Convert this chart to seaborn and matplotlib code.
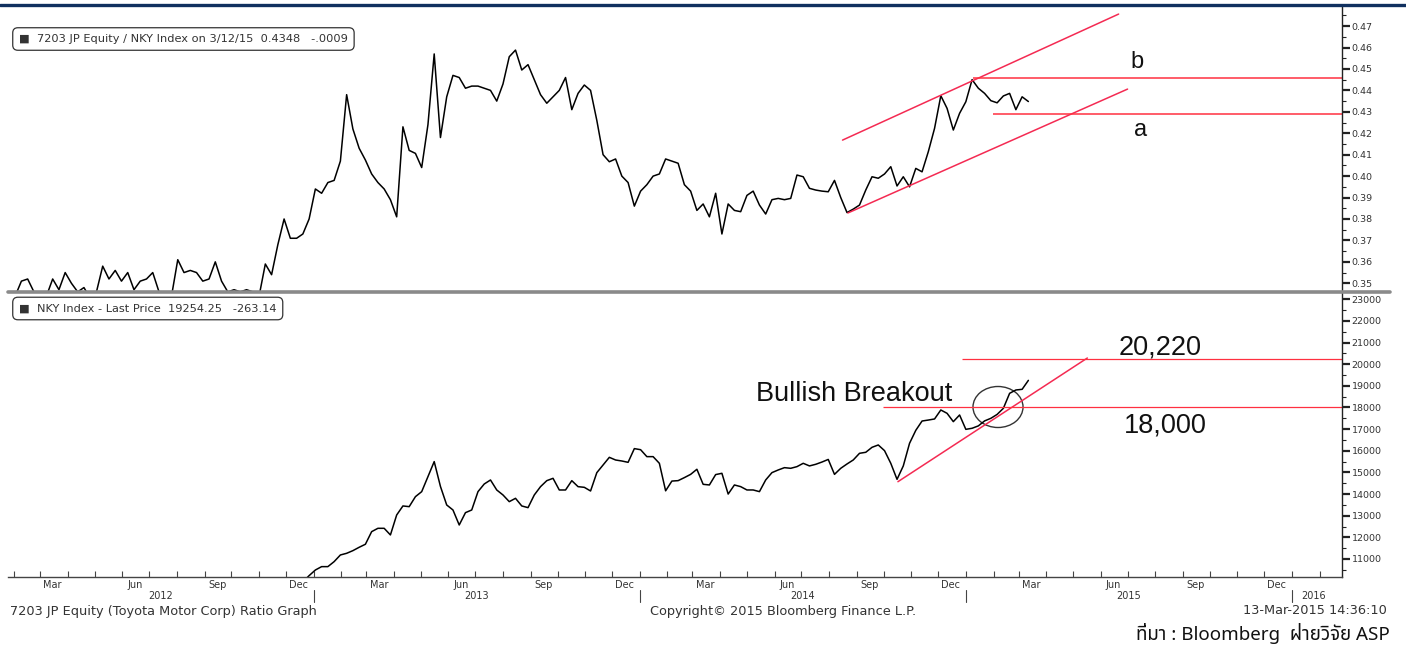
import pandas as pd
import matplotlib
matplotlib.use('Agg')
import matplotlib.pyplot as plt
import matplotlib.dates as mdates
from matplotlib.patches import Ellipse
from matplotlib.lines import Line2D
from matplotlib.ticker import MultipleLocator, FormatStrFormatter
import seaborn as sns

# weekly (Thursday) closes
ratio_start = '2012-01-26'
ratio = [0.343, 0.344, 0.351, 0.352, 0.346, 0.343, 0.344, 0.352, 0.347, 0.355,
         0.350, 0.346, 0.348, 0.343, 0.346, 0.358, 0.352, 0.356, 0.351, 0.355,
         0.347, 0.351, 0.352, 0.355, 0.346, 0.343, 0.344, 0.361, 0.355, 0.356,
         0.355, 0.351, 0.352, 0.360, 0.351, 0.346, 0.347, 0.346, 0.347, 0.346,
         0.344, 0.359, 0.354, 0.368, 0.380, 0.371, 0.371, 0.373, 0.380, 0.394,
         0.392, 0.397, 0.398, 0.407, 0.438, 0.422, 0.413, 0.4075, 0.401, 0.397,
         0.394, 0.389, 0.381, 0.423, 0.412, 0.4106, 0.404, 0.424, 0.457, 0.418,
         0.437, 0.447, 0.446, 0.441, 0.442, 0.442, 0.441, 0.440, 0.435, 0.443,
         0.4557, 0.4588, 0.4495, 0.452, 0.445, 0.438, 0.434, 0.437, 0.440, 0.446,
         0.431, 0.4386, 0.4425, 0.440, 0.426, 0.410, 0.4067, 0.408, 0.400, 0.397,
         0.386, 0.393, 0.396, 0.400, 0.401, 0.408, 0.407, 0.406, 0.396, 0.393,
         0.384, 0.387, 0.381, 0.392, 0.373, 0.387, 0.384, 0.3834, 0.391, 0.393,
         0.3865, 0.3823, 0.389, 0.3896, 0.389, 0.3896, 0.4005, 0.3997, 0.3943, 0.3935,
         0.393, 0.3927, 0.398, 0.390, 0.383, 0.3846, 0.3865, 0.3935, 0.3997, 0.399,
         0.401, 0.4044, 0.3954, 0.3997, 0.395, 0.4036, 0.402, 0.4114, 0.4223, 0.4375,
         0.4316, 0.4215, 0.4293, 0.4347, 0.4450, 0.441, 0.4386, 0.4352, 0.4342, 0.4374,
         0.4386, 0.431, 0.437, 0.4348]

nky_start = '2012-11-15'
nky = [8830, 9370, 9400, 9545, 9740, 9940, 10230,
       10490, 10646, 10646, 10877, 11185, 11262, 11385, 11540, 11680, 12263,
       12417, 12417, 12110, 13033, 13450, 13418, 13880, 14111, 14804, 15500,
       14350, 13495, 13264, 12571, 13141, 13264, 14111, 14465, 14650, 14188,
       13957, 13649, 13803, 13450, 13372, 13957, 14342, 14619, 14727, 14188,
       14188, 14619, 14342, 14311, 14142, 14989, 15343, 15697, 15574, 15528,
       15466, 16100, 16050, 15729, 15729, 15421, 14150, 14600, 14620, 14760,
       14910, 15145, 14450, 14420, 14900, 14959, 14000, 14420, 14343, 14189,
       14189, 14112, 14651, 14990, 15113, 15220, 15190, 15267, 15421, 15300,
       15375, 15480, 15600, 14910, 15190, 15390, 15575, 15883, 15930, 16160,
       16268, 16006, 15421, 14680, 15300, 16345, 16945, 17375, 17420, 17470,
       17885, 17731, 17346, 17654, 16990, 17040, 17150, 17380, 17500, 17680,
       17962, 18655, 18809, 18840, 19254]

# hand drawn lines on the screen
ratio_upper_dates = ['2014-08-16', '2015-06-21']
ratio_upper_vals = [0.4168, 0.4756]
ratio_lower_dates = ['2014-08-22', '2015-07-01']
ratio_lower_vals = [0.3828, 0.4406]
level_b, level_b_from = 0.4456, '2015-01-09'
level_a, level_a_from = 0.4291, '2015-01-31'
nky_trend_dates = ['2014-10-17', '2015-05-17']
nky_trend_vals = [14571, 20287]
nky_target, nky_target_from = 20220, '2014-12-28'
nky_break, nky_break_from = 18000, '2014-09-30'

x_left, x_right = pd.Timestamp('2012-01-25'), pd.Timestamp('2016-02-26')
years = [2012, 2013, 2014, 2015, 2016]

W, H = 1406, 648
sns.set_theme(style='white')
plt.rcParams['font.family'] = ['DejaVu Sans']

fig = plt.figure(figsize=(W / 100, H / 100), dpi=100)
ax1 = fig.add_axes([8 / W, 1 - 291 / H, 1334 / W, 284 / H])
ax2 = fig.add_axes([8 / W, 1 - 577 / H, 1334 / W, 284 / H])

df_ratio = pd.DataFrame({'date': pd.date_range(ratio_start, periods=len(ratio), freq='W-THU'),
                         'value': ratio})
df_nky = pd.DataFrame({'date': pd.date_range(nky_start, periods=len(nky), freq='W-THU'),
                       'value': nky})
sns.lineplot(data=df_ratio, x='date', y='value', ax=ax1, color='black', lw=1.1)
sns.lineplot(data=df_nky, x='date', y='value', ax=ax2, color='black', lw=1.1)

ax1.set_ylim(0.3464, 0.4789)
ax2.set_ylim(10167, 23291)

for ax in (ax1, ax2):
    ax.set_xlim(x_left, x_right)
    ax.set_xlabel('')
    ax.set_ylabel('')
    ax.yaxis.tick_right()
    for s in ['left', 'top']:
        ax.spines[s].set_visible(False)
    ax.spines['right'].set_color('#222222')
    ax.spines['right'].set_linewidth(1.0)
    ax.tick_params(axis='y', which='major', direction='out', length=6, width=1.6,
                   color='#222222', labelsize=6.8, labelcolor='#333333', pad=1)
    ax.tick_params(axis='y', which='minor', direction='out', length=3, width=0.8,
                   color='#222222', right=True)

ax1.spines['bottom'].set_visible(False)
ax1.tick_params(axis='x', which='both', bottom=False, labelbottom=False)
ax1.yaxis.set_major_locator(MultipleLocator(0.01))
ax1.yaxis.set_minor_locator(MultipleLocator(0.005))
ax1.yaxis.set_major_formatter(FormatStrFormatter('%.2f'))
ax2.yaxis.set_major_locator(MultipleLocator(1000))
ax2.yaxis.set_minor_locator(MultipleLocator(500))
ax2.yaxis.set_major_formatter(FormatStrFormatter('%d'))

# date axis: month boundaries as ticks, quarter month names in the middle
ax2.spines['bottom'].set_color('#444444')
ax2.spines['bottom'].set_linewidth(1.0)
ax2.xaxis.set_major_locator(mdates.MonthLocator(bymonth=[3, 6, 9, 12], bymonthday=15))
ax2.xaxis.set_major_formatter(mdates.DateFormatter('%b'))
ax2.xaxis.set_minor_locator(mdates.MonthLocator())
ax2.tick_params(axis='x', which='major', length=0, pad=2, labelsize=7, labelcolor='#333333')
ax2.tick_params(axis='x', which='minor', direction='in', length=4, width=0.8,
                color='#444444', bottom=True)

xt = ax2.get_xaxis_transform()
for yr in years:
    start = max(pd.Timestamp(f'{yr}-01-01'), x_left)
    end = min(pd.Timestamp(f'{yr + 1}-01-01'), x_right)
    if yr == years[-1]:
        ax2.text(start + pd.Timedelta(days=10), -0.067, str(yr), transform=xt,
                 ha='left', va='center', fontsize=7, color='#333333')
    else:
        ax2.text(start + (end - start) / 2, -0.067, str(yr), transform=xt,
                 ha='center', va='center', fontsize=7, color='#333333')
    if yr > years[0]:
        ax2.plot([start, start], [-0.046, -0.088], transform=xt, clip_on=False,
                 color='#444444', lw=0.8)

# annotations, top panel
red = '#f42a52'
ax1.plot(pd.to_datetime(ratio_upper_dates), ratio_upper_vals, color=red, lw=1.1, clip_on=False)
ax1.plot(pd.to_datetime(ratio_lower_dates), ratio_lower_vals, color=red, lw=1.1)
ax1.hlines(level_b, pd.Timestamp(level_b_from), x_right, color='#ff3040', lw=1.1)
ax1.hlines(level_a, pd.Timestamp(level_a_from), x_right, color='#ff3040', lw=1.1)
ax1.text(pd.Timestamp('2015-07-12'), 0.4532, 'b', fontsize=17, family='Liberation Sans',
         ha='center', va='center', color='#111111')
ax1.text(pd.Timestamp('2015-07-15'), 0.4215, 'a', fontsize=17, family='Liberation Sans',
         ha='center', va='center', color='#111111')

# annotations, bottom panel
ax2.plot(pd.to_datetime(nky_trend_dates), nky_trend_vals, color=red, lw=1.1)
ax2.hlines(nky_target, pd.Timestamp(nky_target_from), x_right, color='#ff3040', lw=0.9)
ax2.hlines(nky_break, pd.Timestamp(nky_break_from), x_right, color='#ff3040', lw=0.9)
ax2.add_patch(Ellipse((mdates.date2num(pd.Timestamp('2015-02-06')), 18023),
                      width=56, height=1895, fill=False, ec='#333333', lw=1.0))
ax2.text(pd.Timestamp('2014-05-11'), 18624, 'Bullish Breakout', fontsize=19.5,
         family='Liberation Sans', ha='left', va='center', color='#111111')
ax2.text(pd.Timestamp('2015-08-07'), 20750, '20,220', fontsize=19.5,
         family='Liberation Sans', ha='center', va='center', color='#111111')
ax2.text(pd.Timestamp('2015-08-12'), 17191, '18,000', fontsize=19.5,
         family='Liberation Sans', ha='center', va='center', color='#111111')

# legend boxes
box = dict(boxstyle='round,pad=0.55,rounding_size=0.45', fc='white', ec='#333333', lw=0.9)
fig.text(19 / W, 1 - 39 / H, '\u25a0  7203 JP Equity / NKY Index on 3/12/15  0.4348   -.0009',
         fontsize=8.2, va='center', ha='left', color='#333333', bbox=box)
fig.text(19 / W, 1 - 308.5 / H, '\u25a0  NKY Index - Last Price  19254.25   -263.14',
         fontsize=8.2, va='center', ha='left', color='#333333', bbox=box)

# frame lines
fig.add_artist(Line2D([0, 1], [1 - 4.5 / H] * 2, transform=fig.transFigure,
                      color='#10305f', lw=2.4))
fig.add_artist(Line2D([8 / W, 1390 / W], [1 - 291.5 / H] * 2, transform=fig.transFigure,
                      color='#8a8a8a', lw=2.6))

# footer
fig.text(10 / W, 1 - 611 / H, '7203 JP Equity (Toyota Motor Corp) Ratio Graph',
         fontsize=9.3, va='center', ha='left', color='#333333')
fig.text(783 / W, 1 - 611 / H, 'Copyright\u00a9 2015 Bloomberg Finance L.P.',
         fontsize=9.3, va='center', ha='center', color='#333333')
fig.text(1387 / W, 1 - 611 / H, '13-Mar-2015 14:36:10',
         fontsize=9.3, va='center', ha='right', color='#333333')
fig.text(1390 / W, 1 - 634 / H, '\u0e17\u0e35\u0e48\u0e21\u0e32 : Bloomberg  '
         '\u0e1d\u0e48\u0e32\u0e22\u0e27\u0e34\u0e08\u0e31\u0e22 ASP',
         fontsize=13.5, fontweight='bold', fontstyle='italic', va='center', ha='right',
         color='#111111', family=['Noto Sans Thai', 'Noto Sans', 'DejaVu Sans'])

fig.savefig('out.png', dpi=100)
